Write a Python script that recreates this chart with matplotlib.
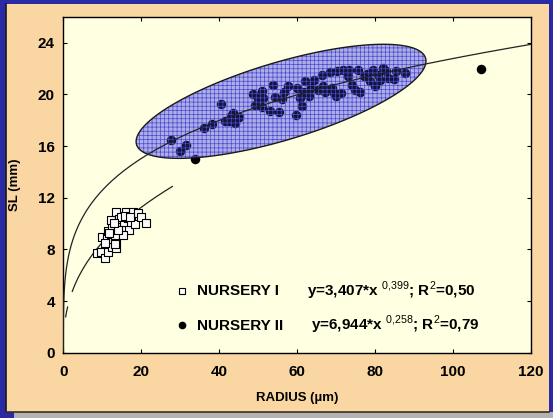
import numpy as np
import matplotlib
matplotlib.use("Agg")
import matplotlib.pyplot as plt
from matplotlib.patches import Polygon, Rectangle
from matplotlib.lines import Line2D

plt.rcParams['font.family'] = ['Liberation Sans', 'DejaVu Sans']
plt.rcParams['mathtext.fontset'] = 'custom'
plt.rcParams['mathtext.rm'] = 'Liberation Sans'
plt.rcParams['mathtext.bf'] = 'Liberation Sans:bold'
plt.rcParams['hatch.linewidth'] = 0.5

# Nursery I (squares)
n1_radius = [8.7, 9.8, 10.6, 11.4, 10.0, 11.1, 11.5, 12.3, 12.6, 13.6, 13.4, 13.3,
             12.6, 12.3, 13.6, 14.4, 15.0, 15.5, 16.1, 16.5, 16.9, 17.4, 17.8, 18.4,
             19.3, 20.0, 21.1, 15.3, 14.1, 14.7, 15.9, 17.1, 13.0, 11.8, 10.7, 13.2]
n1_sl = [7.75, 7.83, 7.31, 7.83, 8.94, 8.86, 9.46, 8.60, 8.17, 8.09, 8.73, 9.12,
         9.77, 10.29, 10.93, 10.34, 9.77, 10.16, 10.93, 10.41, 9.51, 10.16, 10.93, 9.98,
         10.85, 10.49, 10.03, 9.12, 9.51, 10.54, 10.60, 10.54, 10.03, 9.25, 8.48, 8.43]

# Nursery II (filled circles)
n2_radius = [27.6, 29.9, 31.6, 33.8, 36.1, 38.1, 40.6, 41.4, 43.1, 43.5, 44.2, 45.2,
             42.6, 48.6, 49.3, 49.9, 51.0, 51.0, 51.3, 53.1, 53.8, 54.3, 55.4, 56.2,
             56.7, 57.6, 59.7, 60.1, 60.7, 61.3, 61.7, 62.1, 63.0, 63.5, 64.4, 65.3,
             66.5, 66.7, 67.1, 68.5, 68.9, 69.4, 70.3, 70.0, 71.2, 71.9, 73.0, 73.4,
             74.2, 74.8, 75.7, 76.2, 77.1, 78.0, 78.7, 79.6, 80.0, 80.9, 81.4, 82.1,
             82.9, 83.4, 85.0, 85.4, 87.8, 107.2]
n2_sl = [16.49, 15.66, 16.05, 15.00, 17.39, 17.73, 19.28, 17.91, 18.30, 18.56, 17.78, 18.24,
         17.91, 20.05, 19.20, 19.69, 20.29, 19.02, 19.72, 18.74, 20.73, 19.80, 18.68, 19.64,
         20.23, 20.62, 18.43, 20.54, 19.69, 19.07, 20.23, 21.01, 19.85, 20.49, 21.09, 20.36,
         21.53, 20.67, 20.23, 21.71, 20.49, 20.10, 21.78, 19.85, 20.10, 21.86, 21.40, 21.86,
         20.75, 20.36, 21.91, 20.23, 21.40, 21.60, 21.01, 21.91, 20.67, 21.53, 21.14, 22.04,
         21.78, 21.27, 21.19, 21.78, 21.66, 22.00]

# power fits y = a * x^b
fit1 = (3.407, 0.399)
fit2 = (6.944, 0.258)

# ellipse (centre, conjugate semi-diameters in data units)
ell_center = (55.9, 19.47)
ell_u = (37.1, 3.35)
ell_v = (-2.86, 2.88)

xticks = [0, 20, 40, 60, 80, 100, 120]
yticks = [0, 4, 8, 12, 16, 20, 24]

fig = plt.figure(figsize=(5.53, 4.18), dpi=100)
fig.patch.set_facecolor('#2a2aa6')

# slide panel
fig.patches.append(Rectangle((0.025, 0), 0.975, 0.0144, transform=fig.transFigure,
                             facecolor='#b3b3b3', edgecolor='none', zorder=-2))
fig.patches.append(Rectangle((0.0108, 0.015), 0.982, 0.975, transform=fig.transFigure,
                             facecolor='#f9d6a2', edgecolor='none', zorder=-2))
fig.lines.append(Line2D([0.0108, 0.0108], [0.015, 0.99], transform=fig.transFigure,
                        color='#1a1a1a', lw=1.2, zorder=-1))
fig.lines.append(Line2D([0.0108, 0.9928], [0.015, 0.015], transform=fig.transFigure,
                        color='#3a3020', lw=1.2, zorder=-1))

ax = fig.add_axes([0.1145, 0.1562, 0.8452, 0.8031])
ax.set_zorder(2)
ax.set_facecolor('#ffffe2')

# ellipse
t = np.linspace(0, 2 * np.pi, 300)
ex = ell_center[0] + ell_u[0] * np.cos(t) + ell_v[0] * np.sin(t)
ey = ell_center[1] + ell_u[1] * np.cos(t) + ell_v[1] * np.sin(t)
pts = np.column_stack([ex, ey])
ax.add_patch(Polygon(pts, closed=True, facecolor='#dcdcf6', edgecolor='none', zorder=1))

ax.scatter(n2_radius, n2_sl, s=34, c='black', marker='o', zorder=2)

ax.add_patch(Polygon(pts, closed=True, facecolor='#4444c0', alpha=0.3,
                     edgecolor='none', zorder=3))
ax.add_patch(Polygon(pts, closed=True, facecolor='none', edgecolor='#4a4ad6',
                     hatch='++++', lw=0, zorder=3))
ax.add_patch(Polygon(pts, closed=True, facecolor='none', edgecolor='#1a1a1a',
                     lw=1.0, zorder=4))

# fitted curves
xa = np.linspace(0.6, 1.1, 20)
xb = np.linspace(2.3, 28, 200)
for xs in (xa, xb):
    ax.plot(xs, fit1[0] * xs ** fit1[1], color='#222222', lw=0.9, zorder=5)
x2 = np.geomspace(1e-7, 120, 400)
ax.plot(x2, fit2[0] * x2 ** fit2[1], color='#222222', lw=0.9, zorder=5)

ax.scatter(n1_radius, n1_sl, s=34, marker='s', facecolor='#fafafa',
           edgecolor='black', linewidths=0.8, zorder=6)

ax.set_xlim(0, 120)
ax.set_ylim(0, 26)
ax.set_xticks(xticks)
ax.set_yticks(yticks)
ax.tick_params(direction='in', length=3, width=0.8, top=True, right=True,
               labelsize=11)
ax.tick_params(axis='x', pad=9)
ax.tick_params(axis='y', pad=6)
for lab in ax.get_xticklabels() + ax.get_yticklabels():
    lab.set_fontweight('bold')
for sp in ax.spines.values():
    sp.set_linewidth(1.0)

ax.set_xlabel('RADIUS (µm)', fontsize=9.5, fontweight='bold', labelpad=9)
ax.set_ylabel('SL (mm)', fontsize=9.5, fontweight='bold', labelpad=12)

# legend
tr = ax.transAxes
ax.plot([0.2535], [0.183], marker='s', ms=4.5, mfc='white', mec='black', mew=0.8,
        transform=tr, clip_on=False)
ax.plot([0.2535], [0.083], marker='o', ms=4.5, color='black', transform=tr, clip_on=False)
ax.text(0.286, 0.185, 'NURSERY I', transform=tr, fontsize=11, fontweight='bold', va='center')
ax.text(0.286, 0.081, 'NURSERY II', transform=tr, fontsize=11, fontweight='bold', va='center')
ax.text(0.521, 0.185, r'y=3,407*x $^{0{,}399}$; R$^{2}$=0,50', transform=tr,
        fontsize=11, fontweight='bold', va='center')
ax.text(0.529, 0.083, r'y=6,944*x $^{0{,}258}$; R$^{2}$=0,79', transform=tr,
        fontsize=11, fontweight='bold', va='center')

fig.savefig('out.png', dpi=100, facecolor=fig.get_facecolor())
